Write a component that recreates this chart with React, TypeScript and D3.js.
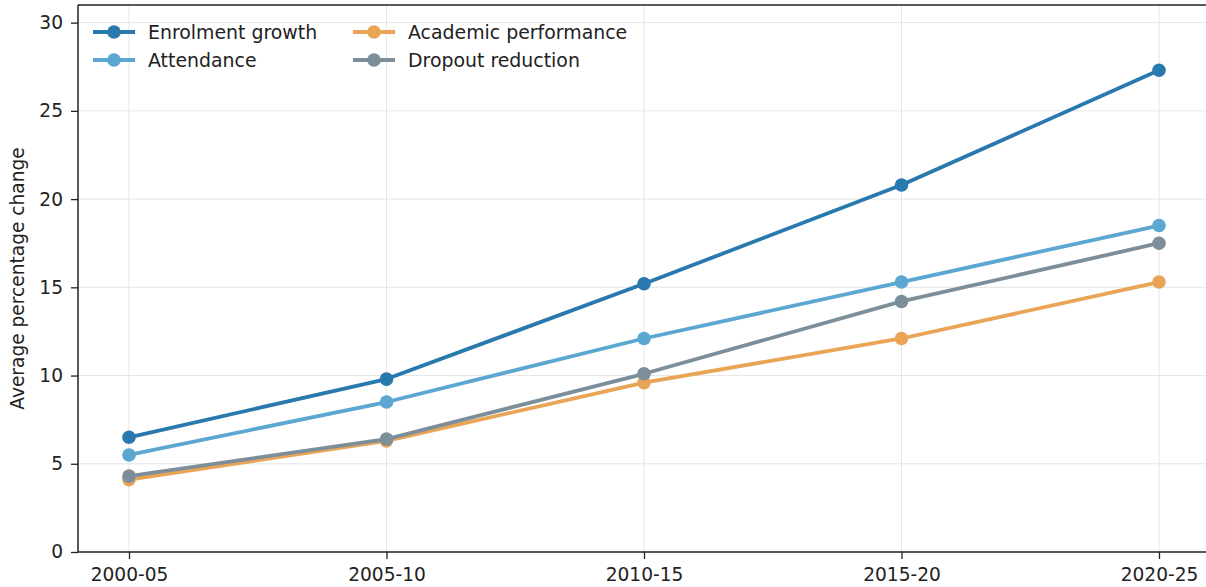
import React, { useEffect, useRef } from 'react'
import * as d3 from 'd3'

const periods = ['2000-05', '2005-10', '2010-15', '2015-20', '2020-25']
const enrolment = [6.5, 9.8, 15.2, 20.8, 27.3]
const attendance = [5.5, 8.5, 12.1, 15.3, 18.5]
const academic = [4.1, 6.3, 9.6, 12.1, 15.3]
const dropout = [4.3, 6.4, 10.1, 14.2, 17.5]
const yTicks = [0, 5, 10, 15, 20, 25, 30]

const seriesNames = ['Enrolment growth', 'Attendance', 'Academic performance', 'Dropout reduction']
const seriesColors = ['#2a79ae', '#5ba7d1', '#e9a456', '#7c8e9a']

export default function App() {
    const ref = useRef<SVGSVGElement>(null)

    useEffect(() => {
        document.body.style.margin = '0'
        const svg = d3.select(ref.current)
        svg.selectAll('*').remove()

        const W = 1206
        const left = 78, top = 5, bottom = 552
        const x = d3.scalePoint<string>().domain(periods).range([129, 1159])
        const y = d3.scaleLinear().domain([0, 31]).range([bottom, top])
        const font = 'DejaVu Sans, sans-serif'

        const g = svg.append('g')

        // grid
        g.selectAll('.hg').data(yTicks).enter().append('line')
            .attr('x1', left).attr('x2', W)
            .attr('y1', d => y(d)).attr('y2', d => y(d))
            .attr('stroke', '#e6e6e6').attr('stroke-width', 1)
        g.selectAll('.vg').data(periods).enter().append('line')
            .attr('x1', d => x(d)!).attr('x2', d => x(d)!)
            .attr('y1', top).attr('y2', bottom)
            .attr('stroke', '#e6e6e6').attr('stroke-width', 1)

        // axes
        const yAxis = d3.axisLeft(y).tickValues(yTicks).tickSize(7).tickPadding(8)
        const ya = g.append('g').attr('transform', `translate(${left},0)`).call(yAxis)
        const xAxis = d3.axisBottom(x).tickSize(7).tickPadding(9)
        const xa = g.append('g').attr('transform', `translate(0,${bottom})`).call(xAxis)
        for (const a of [ya, xa]) {
            a.select('.domain').remove()
            a.selectAll('line').attr('stroke', '#222').attr('stroke-width', 1.3)
            a.selectAll('text').attr('fill', '#222').style('font-family', font).style('font-size', '18.6px')
        }

        // spines
        g.append('line').attr('x1', left).attr('x2', left).attr('y1', top).attr('y2', bottom)
            .attr('stroke', '#222').attr('stroke-width', 1.5)
        g.append('line').attr('x1', left).attr('x2', W).attr('y1', bottom).attr('y2', bottom)
            .attr('stroke', '#222').attr('stroke-width', 1.5)
        g.append('line').attr('x1', left).attr('x2', W).attr('y1', top).attr('y2', top)
            .attr('stroke', '#222').attr('stroke-width', 1.5)

        g.append('text')
            .attr('transform', `translate(24,${(top + bottom) / 2}) rotate(-90)`)
            .attr('text-anchor', 'middle')
            .style('font-family', font).style('font-size', '18.6px').attr('fill', '#222')
            .text('Average percentage change')

        const allSeries = [enrolment, attendance, academic, dropout]
        const line = d3.line<number>().x((_, i) => x(periods[i])!).y(d => y(d))

        allSeries.forEach((s, k) => {
            g.append('path').attr('d', line(s)).attr('fill', 'none')
                .attr('stroke', seriesColors[k]).attr('stroke-width', 3.8)
                .attr('stroke-linejoin', 'round')
            g.selectAll('.m' + k).data(s).enter().append('circle')
                .attr('cx', (_, i) => x(periods[i])!).attr('cy', d => y(d))
                .attr('r', 6.8).attr('fill', seriesColors[k])
        })

        // legend
        const legendPos = [[93, 32], [93, 60], [353, 32], [353, 60]]
        seriesNames.forEach((name, k) => {
            const [lx, ly] = legendPos[k]
            const lg = g.append('g').attr('transform', `translate(${lx},${ly})`)
            lg.append('line').attr('x1', 0).attr('x2', 42).attr('y1', 0).attr('y2', 0)
                .attr('stroke', seriesColors[k]).attr('stroke-width', 3.8)
            lg.append('circle').attr('cx', 21).attr('cy', 0).attr('r', 6.8).attr('fill', seriesColors[k])
            lg.append('text').attr('x', 55).attr('y', 0).attr('dy', '0.35em')
                .style('font-family', font).style('font-size', '18.9px').attr('fill', '#222')
                .text(name)
        })
    }, [])

    return <svg ref={ref} width={1206} height={587} style={{ display: 'block' }} />
}
